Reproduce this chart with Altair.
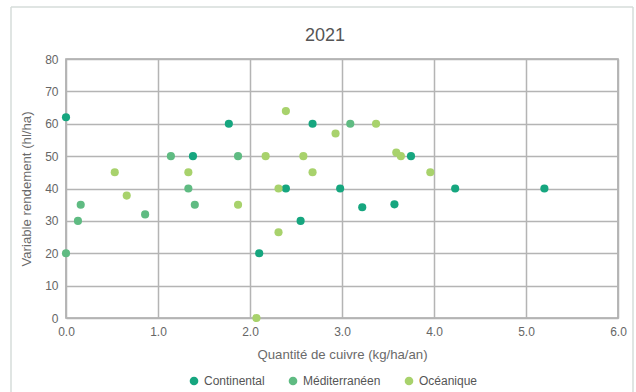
import altair as alt
import pandas as pd

# Data
cont_x = [0.0, 1.77, 1.38, 2.10, 2.39, 2.55, 2.68, 2.98, 3.22, 3.57, 3.75, 4.23, 5.20]
cont_y = [62, 60, 50, 20, 40, 30, 60, 40, 34.2, 35.1, 50, 40, 40]

med_x = [0.0, 0.13, 0.16, 0.86, 1.14, 1.33, 1.40, 1.87, 3.09]
med_y = [20, 30, 35, 32, 50, 40, 35, 50, 60]

oce_x = [0.53, 0.66, 1.33, 1.87, 2.07, 2.17, 2.31, 2.31, 2.39, 2.58, 2.68, 2.93, 3.37, 3.59, 3.64, 3.96]
oce_y = [45, 37.8, 45, 35, 0, 50, 40, 26.5, 63.9, 50, 45, 57, 60, 51.1, 50, 45]

series = ["Continental", "Méditerranéen", "Océanique"]
colors = ["#16a67f", "#5fbb82", "#a8d26c"]
title_text = "2021"

rows = []
for name, xs, ys in [(series[0], cont_x, cont_y), (series[1], med_x, med_y), (series[2], oce_x, oce_y)]:
    for a, b in zip(xs, ys):
        rows.append({"cuivre": a, "rendement": b, "zone": name})
df = pd.DataFrame(rows)

font = "Liberation Sans"
one = pd.DataFrame({"v": [0]})

points = alt.Chart(df).mark_circle(size=66, opacity=1).encode(
    x=alt.X("cuivre:Q", scale=alt.Scale(domain=[0, 6], nice=False),
            axis=alt.Axis(values=[0, 1, 2, 3, 4, 5, 6], format=".1f", labelFlush=False,
                          title="Quantité de cuivre (kg/ha/an)", titlePadding=11)),
    y=alt.Y("rendement:Q", scale=alt.Scale(domain=[0, 80], nice=False),
            axis=alt.Axis(values=[0, 10, 20, 30, 40, 50, 60, 70, 80], labelFlush=False,
                          title="Variable rendement (hl/ha)", titlePadding=11)),
    color=alt.Color("zone:N", scale=alt.Scale(domain=series, range=colors),
                    legend=alt.Legend(title=None, orient="none", direction="horizontal",
                                      legendX=122, legendY=316, symbolType="circle",
                                      symbolSize=75, labelFontSize=12, labelColor="#555",
                                      labelFont=font, columnPadding=22, symbolOffset=0)),
)

frame_style = dict(color="#d6ddda", strokeWidth=1.5)
left = alt.Chart(one).mark_rule(**frame_style).encode(
    x=alt.value(-55), y=alt.value(-52), y2=alt.value(333))
right = alt.Chart(one).mark_rule(**frame_style).encode(
    x=alt.value(567), y=alt.value(-52), y2=alt.value(333))
top = alt.Chart(one).mark_rule(**frame_style).encode(
    x=alt.value(-55), x2=alt.value(567), y=alt.value(-52))

title = alt.Chart(one).mark_text(
    text=title_text, fontSize=18, font=font, color="#555", baseline="middle", align="center"
).encode(x=alt.value(259), y=alt.value(-23))

chart = alt.layer(left, right, top, title, points).properties(
    width=552, height=259,
    padding={"left": 66, "top": 59, "right": 18, "bottom": 74},
    autosize=alt.AutoSizeParams(type="none"),
    background="white",
).configure_view(stroke="#a8a8a8", strokeWidth=1.6).configure_axis(
    grid=True, gridColor="#b4b4b4", gridWidth=1.5, domain=False, ticks=False,
    labelFont=font, labelFontSize=12, labelColor="#666",
    titleFont=font, titleFontSize=13.2, titleColor="#6a6a6a", titleFontWeight="normal",
    labelPadding=8,
)

chart.save("out.html", embed_options={"renderer": "svg", "actions": False})
